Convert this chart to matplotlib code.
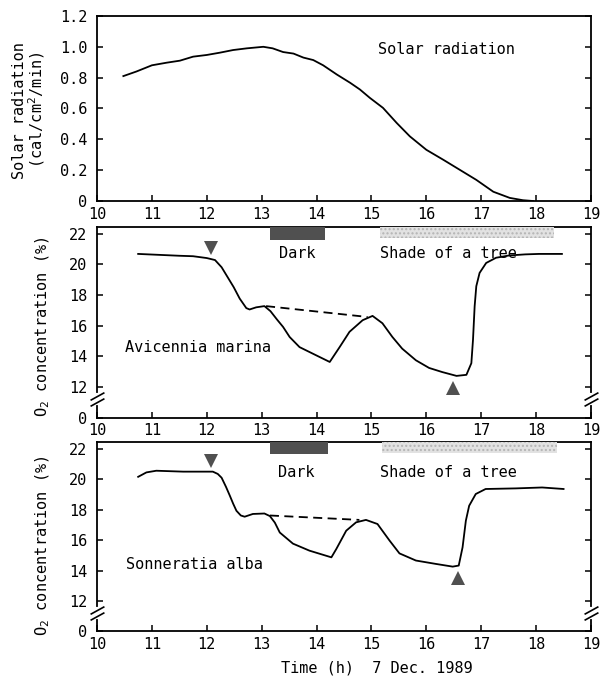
import matplotlib
matplotlib.use("Agg")
import matplotlib.pyplot as plt
from matplotlib.patches import Rectangle

plt.rcParams['font.family'] = ['DejaVu Sans Mono']
plt.rcParams['font.size'] = 11

# --- data ---
hours = [10, 11, 12, 13, 14, 15, 16, 17, 18, 19]
hour_labels = [str(h) for h in hours]

solar_ticks = [0, 0.2, 0.4, 0.6, 0.8, 1.0, 1.2]
solar_tick_labels = ['0', '0.2', '0.4', '0.6', '0.8', '1.0', '1.2']
solar_t = [10.48, 10.72, 11.0, 11.27, 11.51, 11.75, 12.0, 12.24, 12.48, 12.73,
           13.03, 13.2, 13.39, 13.58, 13.76, 13.94, 14.12, 14.37, 14.61, 14.79,
           14.97, 15.21, 15.46, 15.70, 16.0, 16.31, 16.61, 16.91, 17.22, 17.52,
           17.76, 17.94]
solar_v = [0.81, 0.84, 0.88, 0.897, 0.91, 0.936, 0.947, 0.962, 0.979, 0.99,
           1.0, 0.99, 0.966, 0.956, 0.93, 0.914, 0.88, 0.82, 0.767, 0.723,
           0.669, 0.604, 0.506, 0.419, 0.332, 0.267, 0.202, 0.137, 0.06, 0.02,
           0.005, 0.0]

o2_ticks = [10, 12, 14, 16, 18, 20, 22]
o2_tick_labels = ['0', '12', '14', '16', '18', '20', '22']

avic_t = [10.75, 11.5, 11.75, 12.0, 12.15, 12.27, 12.38, 12.49, 12.6, 12.72,
          12.78, 12.9, 13.05, 13.16, 13.28, 13.39, 13.51, 13.69, 13.99, 14.24,
          14.42, 14.6, 14.84, 15.02, 15.2, 15.38, 15.56, 15.81, 16.05, 16.29,
          16.55, 16.73, 16.82, 16.85, 16.88, 16.91, 16.97, 17.09, 17.27, 17.51,
          17.8, 18.05, 18.47]
avic_v = [20.69, 20.57, 20.54, 20.42, 20.29, 19.82, 19.17, 18.52, 17.77, 17.15,
          17.06, 17.2, 17.28, 16.95, 16.4, 15.92, 15.26, 14.6, 14.07, 13.63,
          14.6, 15.6, 16.36, 16.64, 16.16, 15.27, 14.5, 13.74, 13.24, 12.97,
          12.72, 12.79, 13.55, 15.08, 17.27, 18.58, 19.45, 20.1, 20.44, 20.59,
          20.66, 20.69, 20.69]
avic_dash_t = [13.08, 14.93]
avic_dash_v = [17.28, 16.57]
avic_marks_down = (12.07, 21.1)
avic_marks_up = (16.49, 11.9)

sonn_t = [10.75, 10.9, 11.08, 11.57, 12.11, 12.2, 12.27, 12.35, 12.42, 12.48,
          12.54, 12.62, 12.69, 12.84, 13.05, 13.15, 13.24, 13.33, 13.57, 13.87,
          14.17, 14.27, 14.36, 14.54, 14.72, 14.9, 15.11, 15.33, 15.51, 15.81,
          16.17, 16.48, 16.59, 16.66, 16.72, 16.78, 16.9, 17.08, 17.63, 18.11,
          18.5]
sonn_v = [20.16, 20.45, 20.56, 20.5, 20.5, 20.35, 20.1, 19.5, 18.92, 18.4,
          17.93, 17.62, 17.54, 17.72, 17.75, 17.58, 17.15, 16.5, 15.77, 15.31,
          14.98, 14.87, 15.42, 16.62, 17.17, 17.33, 17.06, 15.97, 15.13, 14.66,
          14.44, 14.26, 14.33, 15.53, 17.28, 18.26, 19.03, 19.36, 19.4, 19.46,
          19.36]
sonn_dash_t = [13.15, 14.78]
sonn_dash_v = [17.62, 17.33]
sonn_marks_down = (12.07, 21.2)
sonn_marks_up = (16.58, 13.5)

# periods (start, end) in hours
dark_period = {'avic': (13.16, 14.15), 'sonn': (13.15, 14.2)}
shade_period = {'avic': (15.15, 18.33), 'sonn': (15.2, 18.38)}

fig = plt.figure(figsize=(6.04, 6.79), dpi=100)
ax1 = fig.add_axes([0.1606, 0.7040, 0.8179, 0.2725])
ax2 = fig.add_axes([0.1606, 0.3851, 0.8179, 0.2806])
ax3 = fig.add_axes([0.1606, 0.0700, 0.8179, 0.2791])


def style_axes(ax):
    ax.set_xlim(10, 19)
    ax.set_xticks(hours)
    ax.set_xticklabels(hour_labels)
    for s in ax.spines.values():
        s.set_linewidth(1.3)
    ax.tick_params(direction='in', length=4, width=1.1, left=True, right=True,
                   top=False, labelsize=11, pad=4)
    ax.tick_params(axis='y', pad=7)


# --- solar radiation ---
style_axes(ax1)
ax1.plot(solar_t, solar_v, color='black', lw=1.3)
ax1.set_ylim(0, 1.2)
ax1.set_yticks(solar_ticks)
ax1.set_yticklabels(solar_tick_labels)
ax1.text(15.12, 0.98, 'Solar radiation', va='center', ha='left', fontsize=11)
fig.text(20 / 604, 1 - 111 / 679, 'Solar radiation', rotation=90,
         ha='center', va='center', fontsize=11)
fig.text(37 / 604, 1 - 110 / 679, '(cal/cm$^2$/min)', rotation=90,
         ha='center', va='center', fontsize=11)


def o2_panel(ax, t, v, dash_t, dash_v, down, up, key, name, name_xy,
             label_y, dark_y, shade_y):
    style_axes(ax)
    ax.set_ylim(10, 22.45)
    ax.set_yticks(o2_ticks)
    ax.set_yticklabels(o2_tick_labels)
    ax.plot(t, v, color='black', lw=1.3)
    ax.plot(dash_t, dash_v, color='black', lw=1.3, linestyle=(0, (5, 3)))
    ax.plot([down[0]], [down[1]], marker='v', ms=10.5, color='#505050', mew=0)
    ax.plot([up[0]], [up[1]], marker='^', ms=10.5, color='#505050', mew=0)
    d0, d1 = dark_period[key]
    ax.add_patch(Rectangle((d0, dark_y), d1 - d0, 22.45 - dark_y,
                           facecolor='#505050', edgecolor='none', zorder=3))
    s0, s1 = shade_period[key]
    ax.add_patch(Rectangle((s0, shade_y), s1 - s0, 22.45 - shade_y,
                           facecolor='#e2e2e2', edgecolor='#b4b4b4',
                           hatch='....', lw=0, zorder=3))
    ax.text(d0 + 0.15, label_y, 'Dark', va='center', ha='left')
    ax.text(15.15, label_y, 'Shade of a tree', va='center', ha='left')
    ax.text(name_xy[0], name_xy[1], name, va='center', ha='left')
    # axis break marks on both spines
    for xa in (0, 1):
        ax.plot([xa, xa], [10.95, 11.5], color='white', lw=3,
                transform=ax.get_yaxis_transform(), clip_on=False, zorder=5)
        ax.plot([xa, xa], [11.0, 11.4], linestyle='none',
                marker=[(-1, -0.55), (1, 0.55)], ms=10, mew=1.2, color='black',
                transform=ax.get_yaxis_transform(), clip_on=False, zorder=6)


o2_panel(ax2, avic_t, avic_v, avic_dash_t, avic_dash_v, avic_marks_down,
         avic_marks_up, 'avic', 'Avicennia marina', (10.51, 14.6),
         20.75, 21.6, 21.74)
o2_panel(ax3, sonn_t, sonn_v, sonn_dash_t, sonn_dash_v, sonn_marks_down,
         sonn_marks_up, 'sonn', 'Sonneratia alba', (10.53, 14.39),
         20.45, 21.67, 21.74)

fig.text(43 / 604, 1 - 327 / 679, 'O$_2$ concentration (%)', rotation=90,
         ha='center', va='center', fontsize=11)
fig.text(43 / 604, 1 - 546 / 679, 'O$_2$ concentration (%)', rotation=90,
         ha='center', va='center', fontsize=11)
fig.text(377 / 604, 1 - 668 / 679, 'Time (h)  7 Dec. 1989',
         ha='center', va='center', fontsize=11)

fig.savefig('out.png', dpi=100)
